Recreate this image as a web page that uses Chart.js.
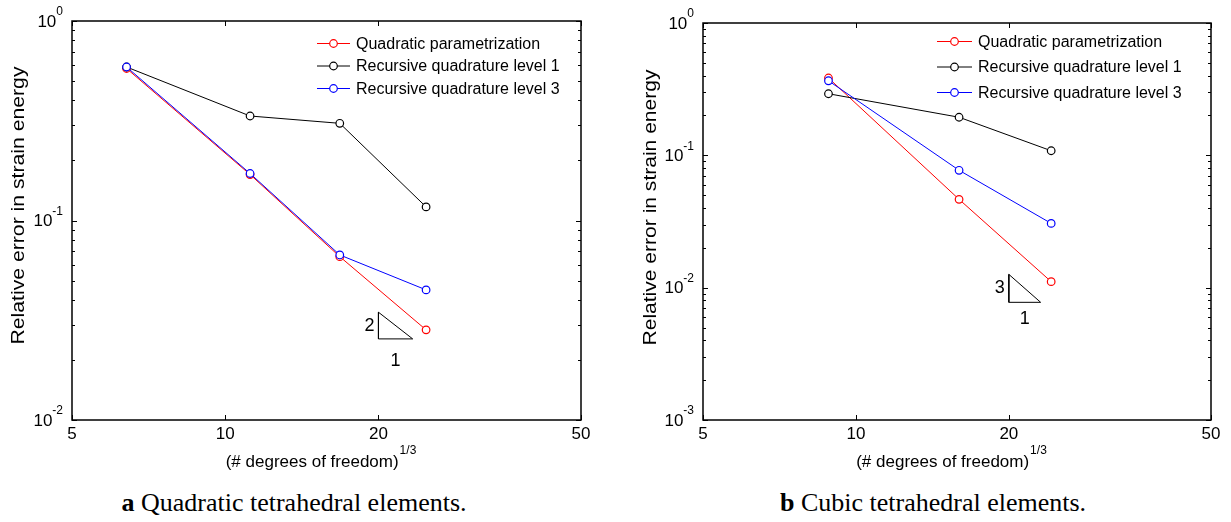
<!DOCTYPE html>
<html>
<head>
<meta charset="utf-8">
<title>Strain energy convergence</title>
<script src="https://cdn.jsdelivr.net/npm/chart.js@4.4.0/dist/chart.umd.min.js"></script>
<style>
  body { margin: 0; background: #fff; width: 1231px; height: 522px; position: relative; overflow: hidden; }
  .panel { position: absolute; top: 0; }
  .caption {
    position: absolute; top: 488px; transform: translateX(-50%); white-space: nowrap;
    font-family: "Liberation Serif", "Times New Roman", serif; font-size: 26px; color: #000;
  }
</style>
</head>
<body>
<div class="panel" style="left:0"><canvas id="chartA" width="620" height="480"></canvas></div>
<div class="panel" style="left:620px"><canvas id="chartB" width="611" height="480"></canvas></div>
<div class="caption" style="left:294px"><b>a</b> Quadratic tetrahedral elements.</div>
<div class="caption" style="left:933px"><b>b</b> Cubic tetrahedral elements.</div>

<script>
// ===== Data =====
const seriesNames = ['Quadratic parametrization', 'Recursive quadrature level 1', 'Recursive quadrature level 3'];
const seriesColors = ['#ff0000', '#000000', '#0000ff'];
const xTickValues = [5, 10, 20, 50];

// (a) quadratic tetrahedra
const dofA = [6.40, 11.19, 16.79, 24.81];
const quadParamA = [0.578, 0.170, 0.0659, 0.0283];
const recLevel1A = [0.588, 0.334, 0.307, 0.117];
const recLevel3A = [0.588, 0.172, 0.0672, 0.0449];
const triangleXA = [20, 20, 23.35, 20];
const triangleYA = [0.0347, 0.0255, 0.0255, 0.0347];
const slopeLabelsA = ['2', '1'];
const yExponentsA = [0, -1, -2];

// (b) cubic tetrahedra
const dofB = [8.83, 15.96, 24.23];
const quadParamB = [0.384, 0.0465, 0.0111];
const recLevel1B = [0.292, 0.194, 0.1083];
const recLevel3B = [0.366, 0.0771, 0.0306];
const triangleXB = [20, 20, 23.1, 20];
const triangleYB = [0.0126, 0.00775, 0.00775, 0.0126];
const slopeLabelsB = ['3', '1'];
const yExponentsB = [0, -1, -2, -3];

const FONT = '"Liberation Sans", Arial, Helvetica, sans-serif';

function toPoints(xs, ys) {
  return xs.map((x, i) => ({ x: x, y: ys[i] }));
}

// ===== Axes box, ticks, labels, legend =====
const matlabFrame = {
  id: 'matlabFrame',
  afterDraw(chart, args, opts) {
    const { ctx, chartArea: a, scales: { x, y } } = chart;
    ctx.save();
    ctx.strokeStyle = '#000';
    ctx.fillStyle = '#000';

    // y ticks: majors at decades, minors at 2..9, inward on both sides
    ctx.lineWidth = 1;
    ctx.beginPath();
    opts.yExponents.forEach((e, i) => {
      const base = Math.pow(10, e);
      const py = Math.round(y.getPixelForValue(base)) + 0.5;
      ctx.moveTo(a.left, py); ctx.lineTo(a.left + 5, py);
      ctx.moveTo(a.right, py); ctx.lineTo(a.right - 5, py);
      if (i === opts.yExponents.length - 1) return;
      for (let m = 2; m <= 9; m++) {
        const pm = Math.round(y.getPixelForValue(base / 10 * m)) + 0.5;
        ctx.moveTo(a.left, pm); ctx.lineTo(a.left + 3, pm);
        ctx.moveTo(a.right, pm); ctx.lineTo(a.right - 3, pm);
      }
    });
    // x ticks at the labelled values, bottom and top
    xTickValues.forEach(v => {
      const px = Math.round(x.getPixelForValue(v)) + 0.5;
      ctx.moveTo(px, a.bottom); ctx.lineTo(px, a.bottom - 5);
      ctx.moveTo(px, a.top); ctx.lineTo(px, a.top + 5);
    });
    ctx.stroke();

    ctx.lineWidth = 1.5;
    ctx.strokeRect(a.left, a.top, a.width, a.height);

    // x tick labels
    ctx.font = '17px ' + FONT;
    ctx.textAlign = 'center';
    ctx.textBaseline = 'top';
    xTickValues.forEach(v => ctx.fillText(String(v), x.getPixelForValue(v), a.bottom + 6));

    // y tick labels as 10^e
    ctx.textAlign = 'right';
    ctx.textBaseline = 'middle';
    opts.yExponents.forEach(e => {
      const py = y.getPixelForValue(Math.pow(10, e));
      const right = a.left - 9;
      const sup = String(e);
      ctx.font = '12px ' + FONT;
      const sw = ctx.measureText(sup).width;
      ctx.fillText(sup, right, py - 9);
      ctx.font = '17px ' + FONT;
      ctx.fillText('10', right - sw, py + 1);
    });

    // x axis title with 1/3 exponent
    const main = '(# degrees of freedom)';
    const exp = '1/3';
    ctx.font = '17px ' + FONT;
    const mw = ctx.measureText(main).width;
    ctx.font = '12px ' + FONT;
    const ew = ctx.measureText(exp).width;
    const startX = (a.left + a.right) / 2 - 6 - (mw + ew) / 2;
    ctx.textAlign = 'left';
    ctx.font = '17px ' + FONT;
    ctx.fillText(main, startX, 462);
    ctx.font = '12px ' + FONT;
    ctx.fillText(exp, startX + mw + 1, 451);

    // y axis title, stretched along its length
    ctx.save();
    ctx.font = '18px ' + FONT;
    const title = 'Relative error in strain energy';
    const tw = ctx.measureText(title).width;
    ctx.translate(opts.yTitleX, (a.top + a.bottom) / 2 + opts.yTitleShift);
    ctx.rotate(-Math.PI / 2);
    ctx.scale(opts.yTitleLength / tw, 1);
    ctx.textAlign = 'center';
    ctx.fillText(title, 0, 0);
    ctx.restore();

    // slope triangle labels
    const tri = chart.data.datasets.find(d => d.slopeTriangle);
    if (tri) {
      const p = tri.data;
      const xl = x.getPixelForValue(p[0].x);
      const xr = x.getPixelForValue(p[2].x);
      const yt = y.getPixelForValue(p[0].y);
      const yb = y.getPixelForValue(p[1].y);
      ctx.font = '18px ' + FONT;
      ctx.textAlign = 'right';
      ctx.fillText(opts.slopeLabels[0], xl - 4, (yt + yb) / 2);
      ctx.textAlign = 'center';
      ctx.fillText(opts.slopeLabels[1], (xl + xr) / 2, yb + opts.runGap);
    }

    // legend
    const lg = opts.legend;
    ctx.font = '16px ' + FONT;
    ctx.textAlign = 'left';
    chart.data.datasets.filter(d => !d.slopeTriangle).forEach((d, i) => {
      const ly = a.top + lg.top + i * lg.gap;
      const lx = a.left + lg.left;
      ctx.strokeStyle = d.borderColor;
      ctx.lineWidth = 1;
      ctx.beginPath();
      ctx.moveTo(lx, ly); ctx.lineTo(lx + lg.len, ly);
      ctx.stroke();
      ctx.fillStyle = '#fff';
      ctx.lineWidth = 1.2;
      ctx.beginPath();
      ctx.arc(lx + lg.len / 2, ly, 3.8, 0, Math.PI * 2);
      ctx.fill(); ctx.stroke();
      ctx.fillStyle = '#000';
      ctx.fillText(d.label, lx + lg.len + 6, ly + 1);
    });
    ctx.restore();
  }
};

function seriesDataset(i, xs, ys, order) {
  return {
    label: seriesNames[i],
    data: toPoints(xs, ys),
    borderColor: seriesColors[i],
    borderWidth: 1,
    pointRadius: 3.8,
    pointBorderWidth: 1.2,
    pointBackgroundColor: '#fff',
    pointBorderColor: seriesColors[i],
    tension: 0,
    order: order
  };
}

function makeChart(id, cfg) {
  return new Chart(document.getElementById(id), {
    type: 'line',
    data: {
      datasets: [
        seriesDataset(0, cfg.dof, cfg.series[0], 3),
        seriesDataset(1, cfg.dof, cfg.series[1], 2),
        seriesDataset(2, cfg.dof, cfg.series[2], 1),
        {
          label: 'slope',
          slopeTriangle: true,
          data: toPoints(cfg.triX, cfg.triY),
          borderColor: '#000',
          borderWidth: 1,
          pointRadius: 0,
          tension: 0,
          order: 4
        }
      ]
    },
    options: {
      responsive: false,
      animation: false,
      devicePixelRatio: 1,
      layout: { padding: { left: 0, right: cfg.padRight, top: cfg.padTop, bottom: 0 } },
      plugins: {
        legend: { display: false },
        tooltip: { enabled: false },
        matlabFrame: {
          yExponents: cfg.yExponents,
          slopeLabels: cfg.slopeLabels,
          runGap: cfg.runGap,
          yTitleX: cfg.yTitleX,
          yTitleShift: cfg.yTitleShift,
          yTitleLength: cfg.yTitleLength,
          legend: cfg.legend
        }
      },
      scales: {
        x: {
          type: 'logarithmic', min: 5, max: 50,
          ticks: { display: false }, grid: { display: false }, border: { display: false },
          afterFit(s) { s.height = 60; }
        },
        y: {
          type: 'logarithmic', min: Math.pow(10, cfg.yExponents[cfg.yExponents.length - 1]), max: 1,
          ticks: { display: false }, grid: { display: false }, border: { display: false },
          afterFit(s) { s.width = cfg.axisLeft; }
        }
      }
    },
    plugins: [matlabFrame]
  });
}

makeChart('chartA', {
  dof: dofA,
  series: [quadParamA, recLevel1A, recLevel3A],
  triX: triangleXA, triY: triangleYA,
  slopeLabels: slopeLabelsA, runGap: 22,
  yExponents: yExponentsA,
  axisLeft: 72, padRight: 39, padTop: 21,
  yTitleX: 19, yTitleShift: -15, yTitleLength: 278,
  legend: { left: 245, top: 22.5, gap: 22.5, len: 33 }
});

makeChart('chartB', {
  dof: dofB,
  series: [quadParamB, recLevel1B, recLevel3B],
  triX: triangleXB, triY: triangleYB,
  slopeLabels: slopeLabelsB, runGap: 17,
  yExponents: yExponentsB,
  axisLeft: 83, padRight: 20, padTop: 23,
  yTitleX: 31, yTitleShift: -14, yTitleLength: 276,
  legend: { left: 234, top: 18.5, gap: 25.5, len: 35 }
});
</script>
</body>
</html>
